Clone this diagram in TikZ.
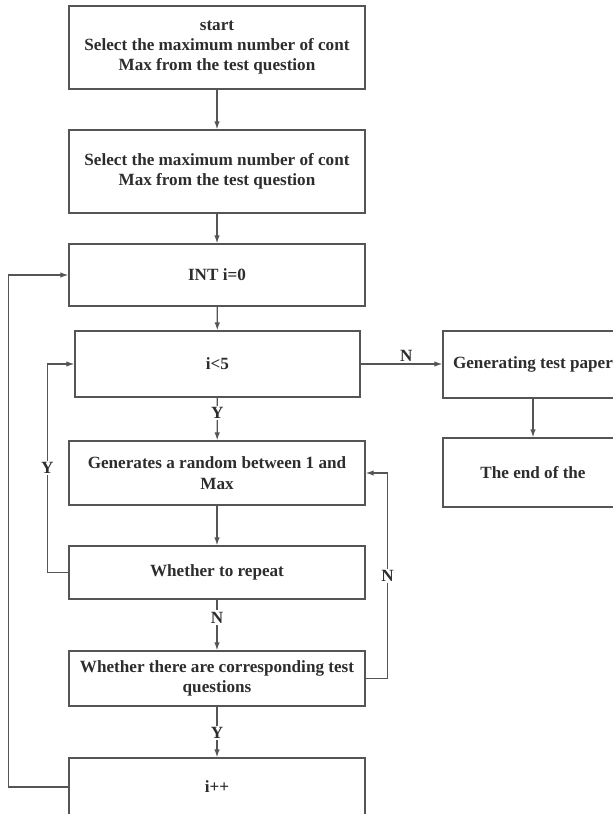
\documentclass[tikz,border=0pt]{standalone}
\usepackage{fontspec}
\setmainfont{Liberation Serif}
\usetikzlibrary{arrows.meta}
\definecolor{ink}{RGB}{45,45,45}
\definecolor{rule}{RGB}{85,85,85}
\begin{document}
\begin{tikzpicture}[x=1bp,y=-1bp,
  lbl/.style={font=\fontsize{17.2}{20.5}\selectfont\bfseries, text=ink},
  box/.style={lbl, draw=rule, line width=1.3bp, align=center, inner sep=0pt},
  flow/.style={draw=rule, line width=1.3bp, -{Latex[length=8bp,width=5.5bp]}},
  tag/.style={lbl, fill=white, inner sep=1.5bp}]
\useasboundingbox (0,0) rectangle (613,814);

% main column
\node[box, minimum width=296bp, minimum height=83bp] (b1) at (217,47.5)
  {start\\Select the maximum number of cont\\Max from the test question};
\node[box, minimum width=296bp, minimum height=83bp] (b2) at (217,171.5)
  {Select the maximum number of cont\\Max from the test question};
\node[box, minimum width=296bp, minimum height=62bp] (b3) at (217,275)
  {INT i=0};
\node[box, minimum width=285bp, minimum height=66bp] (b4) at (217.5,364)
  {i<5};
\node[box, minimum width=296bp, minimum height=64bp] (b5) at (217,473)
  {Generates a random between 1 and\\Max};
\node[box, minimum width=296bp, minimum height=53bp] (b6) at (217,572.5)
  {Whether to repeat};
\node[box, minimum width=296bp, minimum height=55bp] (b7) at (217,678.5)
  {Whether there are corresponding test\\questions};
\node[box, minimum width=296bp, minimum height=58bp] (b8) at (217,787)
  {i++};

% right column
\node[box, minimum width=180bp, minimum height=67bp] (r1) at (533,364.5)
  {Generating test paper};
\node[box, minimum width=180bp, minimum height=69bp] (r2) at (533,472.5)
  {The end of the};

% straight flow
\draw[flow] (b1) -- (b2);
\draw[flow] (b2) -- (b3);
\draw[flow] (b3) -- (b4);
\draw[flow] (b4) -- node[tag, pos=0.36] {Y} (b5);
\draw[flow] (b5) -- (b6);
\draw[flow] (b6) -- node[tag, pos=0.35] {N} (b7);
\draw[flow] (b7) -- node[tag, pos=0.52] {Y} (b8);
\draw[flow] (b4.east) -- node[lbl, above, pos=0.56, inner sep=2bp] {N} (b4.east -| r1.west);
\draw[flow] (r1) -- (r2);

% loops
\draw[flow] (b6.west) -- ++(-21,0) |- node[tag, pos=0.25] {Y} (b4.west);
\draw[flow] (b7.east) -- ++(22,0) |- node[tag, pos=0.25] {N} (b5.east);
\draw[flow] (b8.west) -- ++(-60,0) |- (b3.west);
\end{tikzpicture}
\end{document}
